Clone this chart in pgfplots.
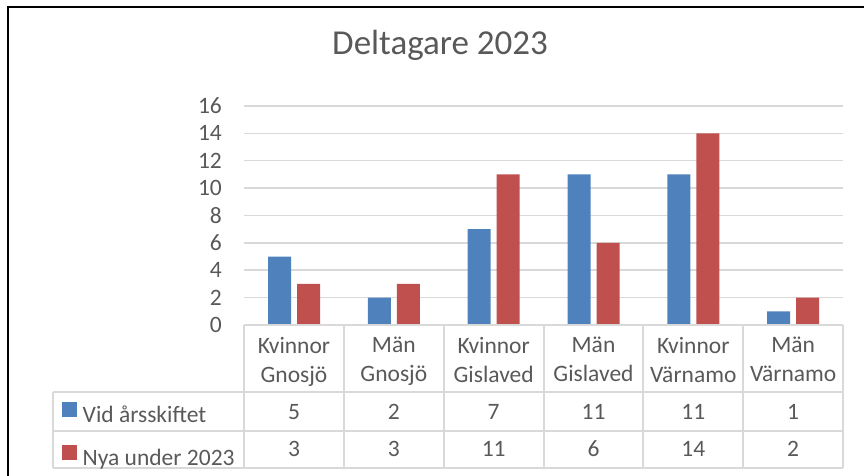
\documentclass[border=0pt]{standalone}
\usepackage{pgfplots}
\usepackage{pgfplotstable}
\pgfplotsset{compat=1.18}
\usepackage{fontspec}
\setmainfont{Carlito}
\definecolor{cblue}{HTML}{4F81BD}
\definecolor{cred}{HTML}{C0504D}
\definecolor{txt}{HTML}{595959}
\definecolor{gridc}{HTML}{D9D9D9}

\pgfplotstableread{
x a b
0 5 3
1 2 3
2 7 11
3 11 6
4 11 14
5 1 2
}\datatable

\begin{document}
\fontsize{23.5}{29}\selectfont%
\begin{tikzpicture}[x=1pt,y=1pt]
\path[use as bounding box] (0,0) rectangle (864,476);
\draw[black, line width=2pt] (8,-2) -- (8,469) -- (866,469);
\begin{axis}[
  at={(294pt,151pt)}, anchor=origin,
  scale only axis, width=599pt, height=219pt,
  xmin=-0.5, xmax=5.5, ymin=0, ymax=16,
  ytick={0,2,...,16},
  xtick={0,...,5},
  xticklabels={Kvinnor\\Gnosjö, Män\\Gnosjö, Kvinnor\\Gislaved, Män\\Gislaved, Kvinnor\\Värnamo, Män\\Värnamo},
  axis line style={draw=none},
  major tick length=0pt,
  ymajorgrids, grid style={gridc, line width=1.5pt},
  clip=false,
  /pgf/number format/assume math mode=true,
  tick label style={text=txt},
  yticklabel style={anchor=east, inner sep=0pt, xshift=-22pt},
  xticklabel style={align=center, anchor=north, inner sep=0pt, yshift=-12pt},
  title={Deltagare 2023},
  title style={at={(axis description cs:0.3272,1.2100)}, anchor=base, inner sep=0pt, font=\fontsize{35}{42}\selectfont, text=txt},
  legend image code/.code={\fill[#1] (0pt,1pt) rectangle (14pt,15pt); \path (20pt,8pt);},
  legend style={at={(axis cs:-2.323,-5.626)}, anchor=north west, draw=none, fill=none, inner sep=0pt,
    text=txt, row sep=17pt, nodes={inner sep=0pt, text height=16pt, text depth=5pt}},
  legend cell align=left,
]
\addplot[ybar, bar width=23pt, bar shift=-14.5pt, fill=cblue, draw=none, forget plot] table[x=x, y=a] {\datatable};
\addplot[ybar, bar width=23pt, bar shift=14.5pt, fill=cred, draw=none, forget plot] table[x=x, y=b] {\datatable};
\addplot[draw=none, mark=none, forget plot, nodes near coords, point meta=explicit symbolic,
  every node near coord/.append style={anchor=base, inner sep=0pt, text=txt}]
  table[x=x, y expr=-6.868, meta=a] {\datatable};
\addplot[draw=none, mark=none, forget plot, nodes near coords, point meta=explicit symbolic,
  every node near coord/.append style={anchor=base, inner sep=0pt, text=txt}]
  table[x=x, y expr=-9.62, meta=b] {\datatable};
\addlegendimage{cblue}
\addlegendentry{Vid årsskiftet}
\addlegendimage{cred}
\addlegendentry{Nya under 2023}
% data table grid
\draw[gridc, line width=2pt] (axis cs:-0.5,0) -- (axis cs:5.5,0);
\draw[gridc, line width=2pt] (axis cs:-2.413,-4.894) -- (axis cs:5.5,-4.894);
\draw[gridc, line width=2pt] (axis cs:-2.413,-7.743) -- (axis cs:5.5,-7.743);
\draw[gridc, line width=2pt] (axis cs:-2.413,-10.446) -- (axis cs:5.5,-10.446);
\draw[gridc, line width=2pt] (axis cs:-2.413,-4.894) -- (axis cs:-2.413,-10.446);
\draw[gridc, line width=2pt] (axis cs:-0.5,0) -- (axis cs:-0.5,-10.446);
\draw[gridc, line width=2pt] (axis cs:0.5,0) -- (axis cs:0.5,-10.446);
\draw[gridc, line width=2pt] (axis cs:1.5,0) -- (axis cs:1.5,-10.446);
\draw[gridc, line width=2pt] (axis cs:2.5,0) -- (axis cs:2.5,-10.446);
\draw[gridc, line width=2pt] (axis cs:3.5,0) -- (axis cs:3.5,-10.446);
\draw[gridc, line width=2pt] (axis cs:4.5,0) -- (axis cs:4.5,-10.446);
\draw[gridc, line width=2pt] (axis cs:5.5,0) -- (axis cs:5.5,-10.446);
\end{axis}
\end{tikzpicture}
\end{document}
